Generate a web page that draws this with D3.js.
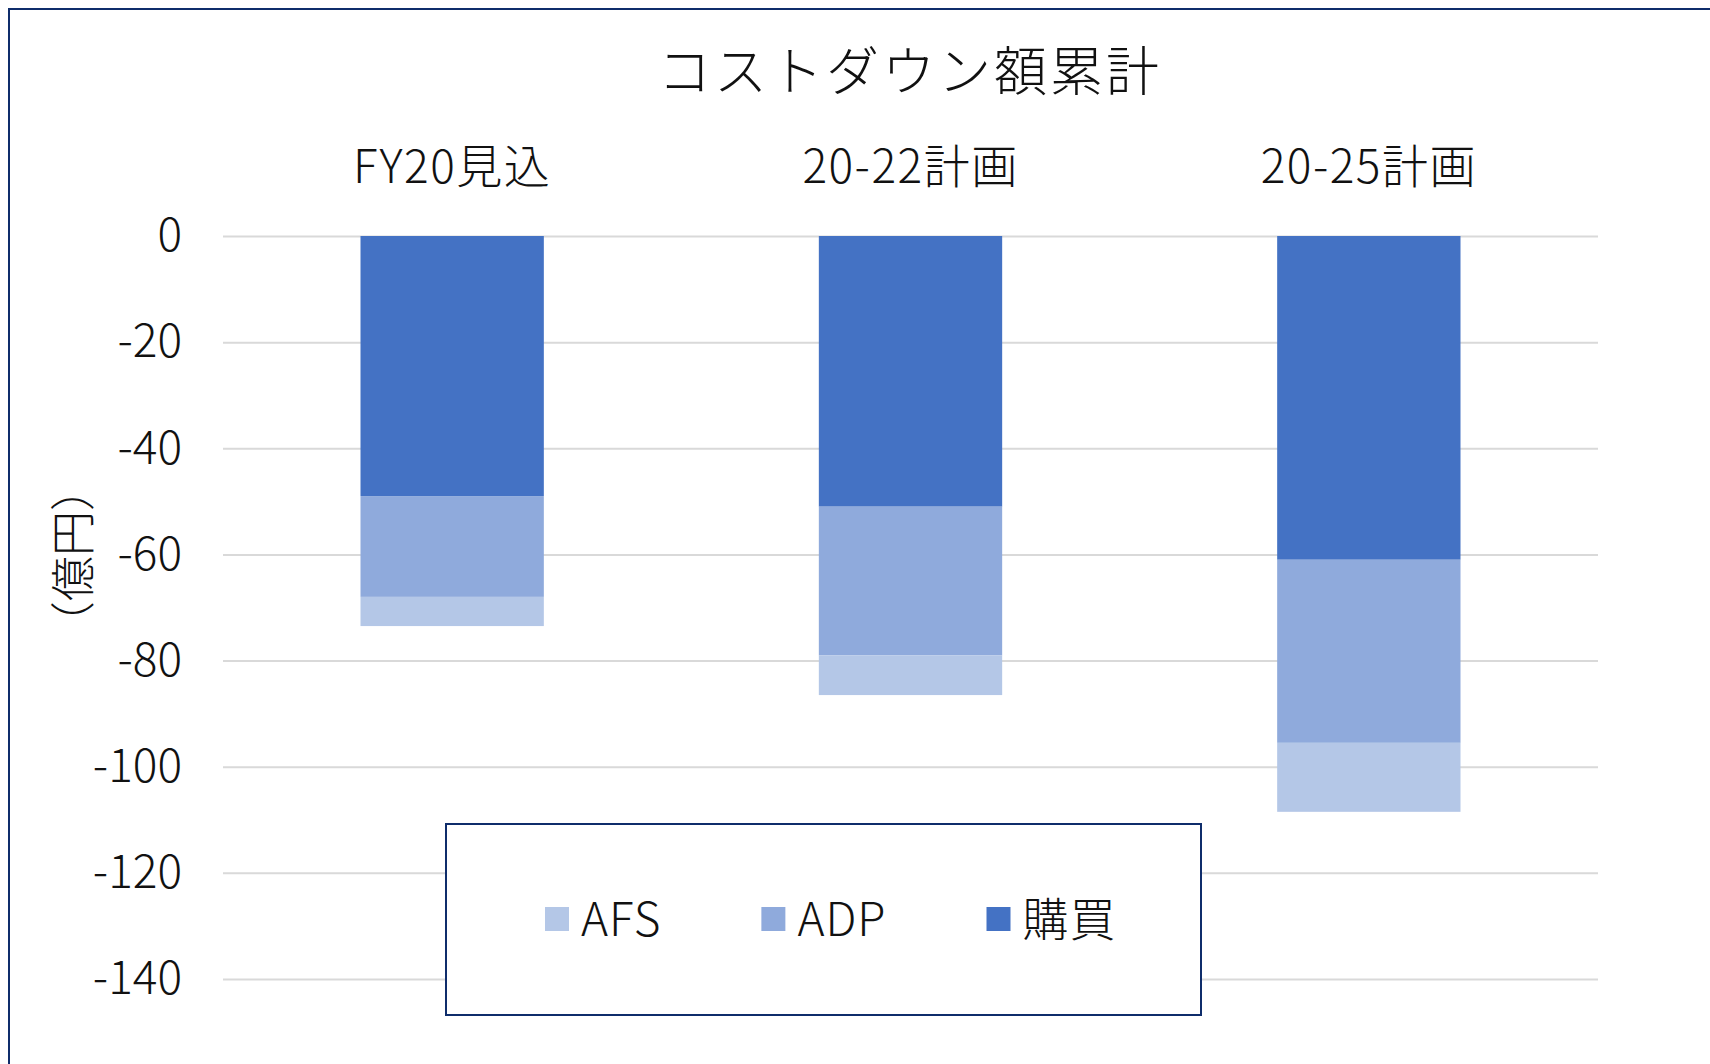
<!DOCTYPE html>
<html>
<head>
<meta charset="utf-8">
<script src="https://cdn.jsdelivr.net/npm/d3@7"></script>
<style>
  body { margin: 0; background: #fff; }
  #chart { width: 1710px; height: 1064px; }
  text { font-family: "Noto Sans CJK JP", "Noto Sans", sans-serif; fill: #111; font-weight: 300; }
</style>
</head>
<body>
<div id="chart"></div>
<script>
const categories = ["FY20見込", "20-22計画", "20-25計画"];
const seriesNames = ["購買", "ADP", "AFS"];
const kobai = [-49, -51, -61];
const adp = [-19, -28, -34.5];
const afs = [-5.5, -7.5, -13];
const yTicks = [0, -20, -40, -60, -80, -100, -120, -140];
const colors = { "購買": "#4472C4", "ADP": "#8FAADC", "AFS": "#B4C7E7" };
const legendOrder = ["AFS", "ADP", "購買"];

const rows = categories.map((c, i) => ({ cat: c, "購買": kobai[i], "ADP": adp[i], "AFS": afs[i] }));

const width = 1710, height = 1064;
const margin = { left: 223, right: 112, top: 236, bottom: 85 };
const innerWidth = width - margin.left - margin.right;
const innerHeight = height - margin.top - margin.bottom;

const svg = d3.select("#chart").append("svg")
  .attr("width", width)
  .attr("height", height);

// chart frame (runs off the right and bottom edge)
svg.append("rect")
  .attr("x", 9).attr("y", 9)
  .attr("width", 2000).attr("height", 2000)
  .attr("fill", "none")
  .attr("stroke", "#0F2D6B")
  .attr("stroke-width", 2);

svg.append("text")
  .attr("x", 910)
  .attr("y", 91)
  .attr("text-anchor", "middle")
  .attr("font-size", 53)
  .attr("letter-spacing", 3)
  .text("コストダウン額累計");

const mainGroup = svg.append("g")
  .attr("transform", `translate(${margin.left},${margin.top})`);

const xScale = d3.scaleBand()
  .domain(categories)
  .range([0, innerWidth])
  .paddingInner(0.6)
  .paddingOuter(0.3);

const yScale = d3.scaleLinear()
  .domain([-140, 0])
  .range([innerHeight, 0]);

const yAxis = d3.axisLeft(yScale)
  .tickValues(yTicks)
  .tickFormat(d => String(d))
  .tickSize(-innerWidth)
  .tickPadding(41);

const yG = mainGroup.append("g").attr("class", "y-axis").call(yAxis);
yG.select(".domain").remove();
yG.selectAll(".tick line").attr("stroke", "#D9D9D9").attr("stroke-width", 2);
yG.selectAll(".tick text")
  .attr("font-size", 46)
  .attr("font-family", '"Noto Sans CJK JP", sans-serif')
  .attr("font-weight", 300)
  .attr("fill", "#111");

const xAxis = d3.axisTop(xScale).tickSize(0).tickPadding(0);
const xG = mainGroup.append("g")
  .attr("transform", `translate(0,${183 - margin.top})`)
  .call(xAxis);
xG.select(".domain").remove();
xG.selectAll(".tick text")
  .attr("font-size", 46)
  .attr("letter-spacing", 1.5)
  .attr("font-family", '"Noto Sans CJK JP", sans-serif')
  .attr("font-weight", 300)
  .attr("fill", "#111");

const stack = d3.stack().keys(seriesNames).offset(d3.stackOffsetDiverging);
const stacked = stack(rows);

mainGroup.selectAll("g.layer")
  .data(stacked)
  .join("g")
  .attr("class", "layer")
  .attr("fill", d => colors[d.key])
  .selectAll("rect")
  .data(d => d)
  .join("rect")
  .attr("x", d => xScale(d.data.cat))
  .attr("width", xScale.bandwidth())
  .attr("y", d => yScale(Math.max(d[0], d[1])))
  .attr("height", d => Math.abs(yScale(d[0]) - yScale(d[1])));

// y axis title
svg.append("text")
  .attr("transform", "translate(90,556) rotate(-90)")
  .attr("text-anchor", "middle")
  .attr("font-size", 45)
  .text("（億円）");

// legend
const legend = svg.append("g").attr("class", "legend");
legend.append("rect")
  .attr("x", 446).attr("y", 824)
  .attr("width", 755).attr("height", 191)
  .attr("fill", "#fff")
  .attr("stroke", "#0F2D6B")
  .attr("stroke-width", 2);

let lx = 545;
legendOrder.forEach(k => {
  const item = legend.append("g");
  item.append("rect")
    .attr("x", lx).attr("y", 907)
    .attr("width", 24).attr("height", 24)
    .attr("fill", colors[k]);
  const t = item.append("text")
    .attr("x", lx + 36)
    .attr("y", 936)
    .attr("font-size", 46)
    .attr("letter-spacing", 1)
    .text(k);
  lx = lx + 36 + t.node().getComputedTextLength() + 100;
});
</script>
</body>
</html>
